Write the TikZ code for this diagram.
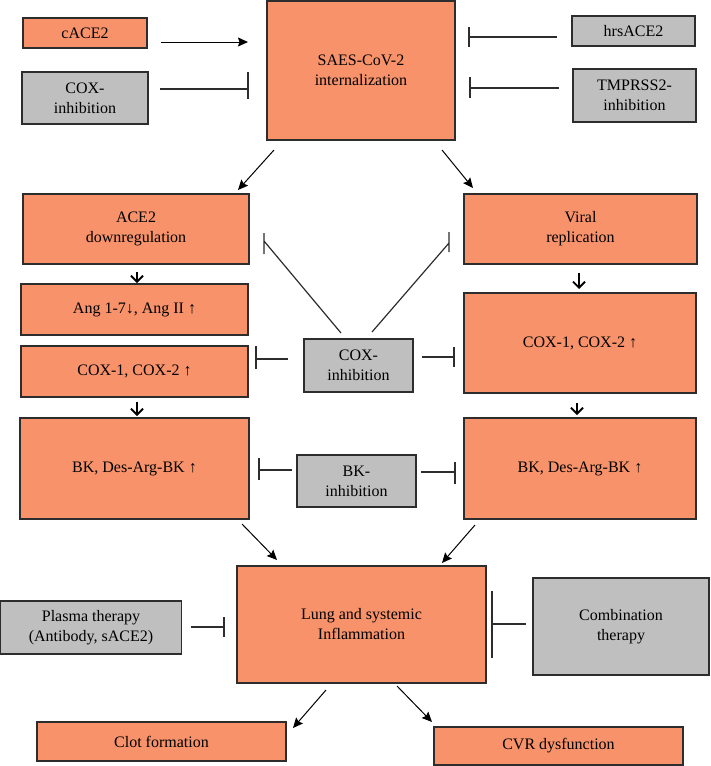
\documentclass[tikz,border=0pt]{standalone}
\usepackage{fontspec}
\setmainfont{Liberation Serif}
\usetikzlibrary{arrows.meta,calc}
\definecolor{boxor}{RGB}{247,146,107}
\definecolor{boxgr}{RGB}{192,191,192}
\definecolor{edge}{RGB}{45,45,45}
\tikzset{
  bx/.style={draw=edge, line width=1.3pt, align=center, inner sep=2pt, outer sep=0pt,
    font=\fontsize{16}{20}\selectfont, text=black},
  ob/.style={bx, fill=boxor},
  gb/.style={bx, fill=boxgr},
  arr/.style={draw=black, line width=1pt, -{Stealth[inset=1.5pt,length=10pt,width=9pt]}},
  sarr/.style={draw=black, line width=1.8pt, -{Straight Barb[length=6pt,width=12pt]}},
  inh/.style={draw=edge, line width=1.2pt}
}
\begin{document}
\begin{tikzpicture}[x=1pt,y=-1pt]
\useasboundingbox (0,0) rectangle (710,766);
% top row
\node[ob, minimum width=124pt, minimum height=30pt] (cace2) at (85,33) {cACE2};
\node[gb, minimum width=126pt, minimum height=52pt] (coxtop) at (85,98) {COX-\\inhibition};
\node[ob, minimum width=188pt, minimum height=139pt] (saes) at (361,70.5) {SAES-CoV-2\\internalization};
\node[gb, minimum width=123pt, minimum height=30pt] (hrs) at (633.5,31) {hrsACE2};
\node[gb, minimum width=123pt, minimum height=53pt] (tmp) at (634.5,95.5) {TMPRSS2-\\inhibition};
% left column
\node[ob, minimum width=226pt, minimum height=70pt] (ace2d) at (136,229) {ACE2\\downregulation};
\node[ob, minimum width=227pt, minimum height=51pt] (ang) at (134.5,309.5) {Ang 1-7↓, Ang II ↑};
\node[ob, minimum width=227pt, minimum height=51pt] (coxL) at (134.5,371.5) {COX-1, COX-2 ↑};
\node[ob, minimum width=229pt, minimum height=101pt] (bkL) at (134.5,468.5) {BK, Des-Arg-BK ↑};
% middle
\node[gb, minimum width=109pt, minimum height=53pt] (coxinh) at (358.5,365.5) {COX-\\inhibition};
\node[gb, minimum width=119pt, minimum height=52pt] (bkinh) at (356.5,481) {BK-\\inhibition};
% right column
\node[ob, minimum width=233pt, minimum height=70pt] (viral) at (580.5,229) {Viral\\replication};
\node[ob, minimum width=232pt, minimum height=100pt] (coxR) at (580,343) {COX-1, COX-2 ↑};
\node[ob, minimum width=232pt, minimum height=101pt] (bkR) at (580,468.5) {BK, Des-Arg-BK ↑};
% bottom
\node[ob, minimum width=249pt, minimum height=117pt] (lung) at (361.5,624.5) {Lung and systemic\\Inflammation};
\node[gb, minimum width=181pt, minimum height=53pt] (plasma) at (91,627.5) {Plasma therapy\\(Antibody, sACE2)};
\node[gb, minimum width=176pt, minimum height=97pt] (combo) at (621,626.5) {Combination\\therapy};
\node[ob, minimum width=249pt, minimum height=39pt] (clot) at (161.5,741.5) {Clot formation};
\node[ob, minimum width=249pt, minimum height=38pt] (cvr) at (558.5,746) {CVR dysfunction};

% top connectors
\draw[arr] ($(cace2.east)+(14,9)$) -- ($(saes.west)+(-19,-28.5)$);
\coordinate (i2) at ($(saes.west)+(-19,18.5)$);
\draw[inh] ($(coxtop.east)+(12,-9)$) -- (i2) ($(i2)+(0,-17)$) -- ($(i2)+(0,10)$);
\coordinate (i3) at ($(saes.east)+(14,-33.5)$);
\draw[inh] ($(hrs.west)+(-15,6)$) -- (i3) ($(i3)+(0,-10)$) -- ($(i3)+(0,10)$);
\coordinate (i4) at ($(saes.east)+(15,17.5)$);
\draw[inh] ($(tmp.west)+(-14,-7.5)$) -- (i4) ($(i4)+(0,-11)$) -- ($(i4)+(0,10)$);
\draw[arr] ($(saes.south west)+(7,10)$) -- ($(ace2d.north east)+(-11,-4)$);
\draw[arr] ($(saes.south east)+(-13,10)$) -- ($(viral.north west)+(9,-6)$);
% short arrows
\draw[sarr] ($(ace2d.south)+(1,8)$) -- ($(ang.north)+(2.5,-1)$);
\draw[sarr] ($(coxL.south)+(2.5,5)$) -- ($(bkL.north)+(2.5,-2)$);
\draw[sarr] ($(viral.south)+(-1.5,9)$) -- ($(coxR.north)+(-1,-4)$);
\draw[sarr] ($(coxR.south)+(-3,10)$) -- ($(bkR.north)+(-3,-3)$);
% cox inhibition
\coordinate (i11) at ($(ace2d.east)+(15,12)$);
\draw[inh] ($(coxinh.north west)+(37,-6)$) -- (i11) ($(i11)+(0,-8)$) -- ($(i11)+(0,13)$);
\coordinate (i12) at ($(viral.west)+(-15,14)$);
\draw[inh] ($(coxinh.north east)+(-41,-7)$) -- (i12) ($(i12)+(0,-11)$) -- ($(i12)+(0,9)$);
\coordinate (i13) at ($(coxL.east)+(8,-12.5)$);
\draw[inh] ($(coxinh.west)+(-16,-6.5)$) -- (i13) ($(i13)+(0,-13)$) -- ($(i13)+(0,10)$);
\coordinate (i14) at ($(coxR.west)+(-10,14)$);
\draw[inh] ($(coxinh.east)+(9,-8.5)$) -- (i14) ($(i14)+(0,-10)$) -- ($(i14)+(0,10)$);
% bk inhibition
\coordinate (i15) at ($(bkL.east)+(10,1.5)$);
\draw[inh] ($(bkinh.west)+(-5,-11)$) -- (i15) ($(i15)+(0,-12)$) -- ($(i15)+(0,10)$);
\coordinate (i16) at ($(bkR.west)+(-9,3.5)$);
\draw[inh] ($(bkinh.east)+(5,-9)$) -- (i16) ($(i16)+(0,-10)$) -- ($(i16)+(0,12)$);
% to lung
\draw[arr] ($(bkL.south east)+(-7,5)$) -- ($(lung.north west)+(40,-6)$);
\draw[arr] ($(bkR.south west)+(11,6)$) -- ($(lung.north east)+(-44,-3)$);
\coordinate (i19) at ($(lung.west)+(-13,2.5)$);
\draw[inh] ($(plasma.east)+(9,-0.5)$) -- (i19) ($(i19)+(0,-10)$) -- ($(i19)+(0,10)$);
\coordinate (i20) at ($(lung.east)+(6,-0.5)$);
\draw[inh] ($(combo.west)+(-7,-2.5)$) -- (i20) ($(i20)+(0,-33)$) -- ($(i20)+(0,34)$);
% from lung
\draw[arr] ($(lung.south)+(-35.5,7)$) -- ($(clot.north east)+(7,6)$);
\draw[arr] ($(lung.south)+(35.5,3)$) -- ($(cvr.north west)+(-2,-5)$);
\end{tikzpicture}
\end{document}
